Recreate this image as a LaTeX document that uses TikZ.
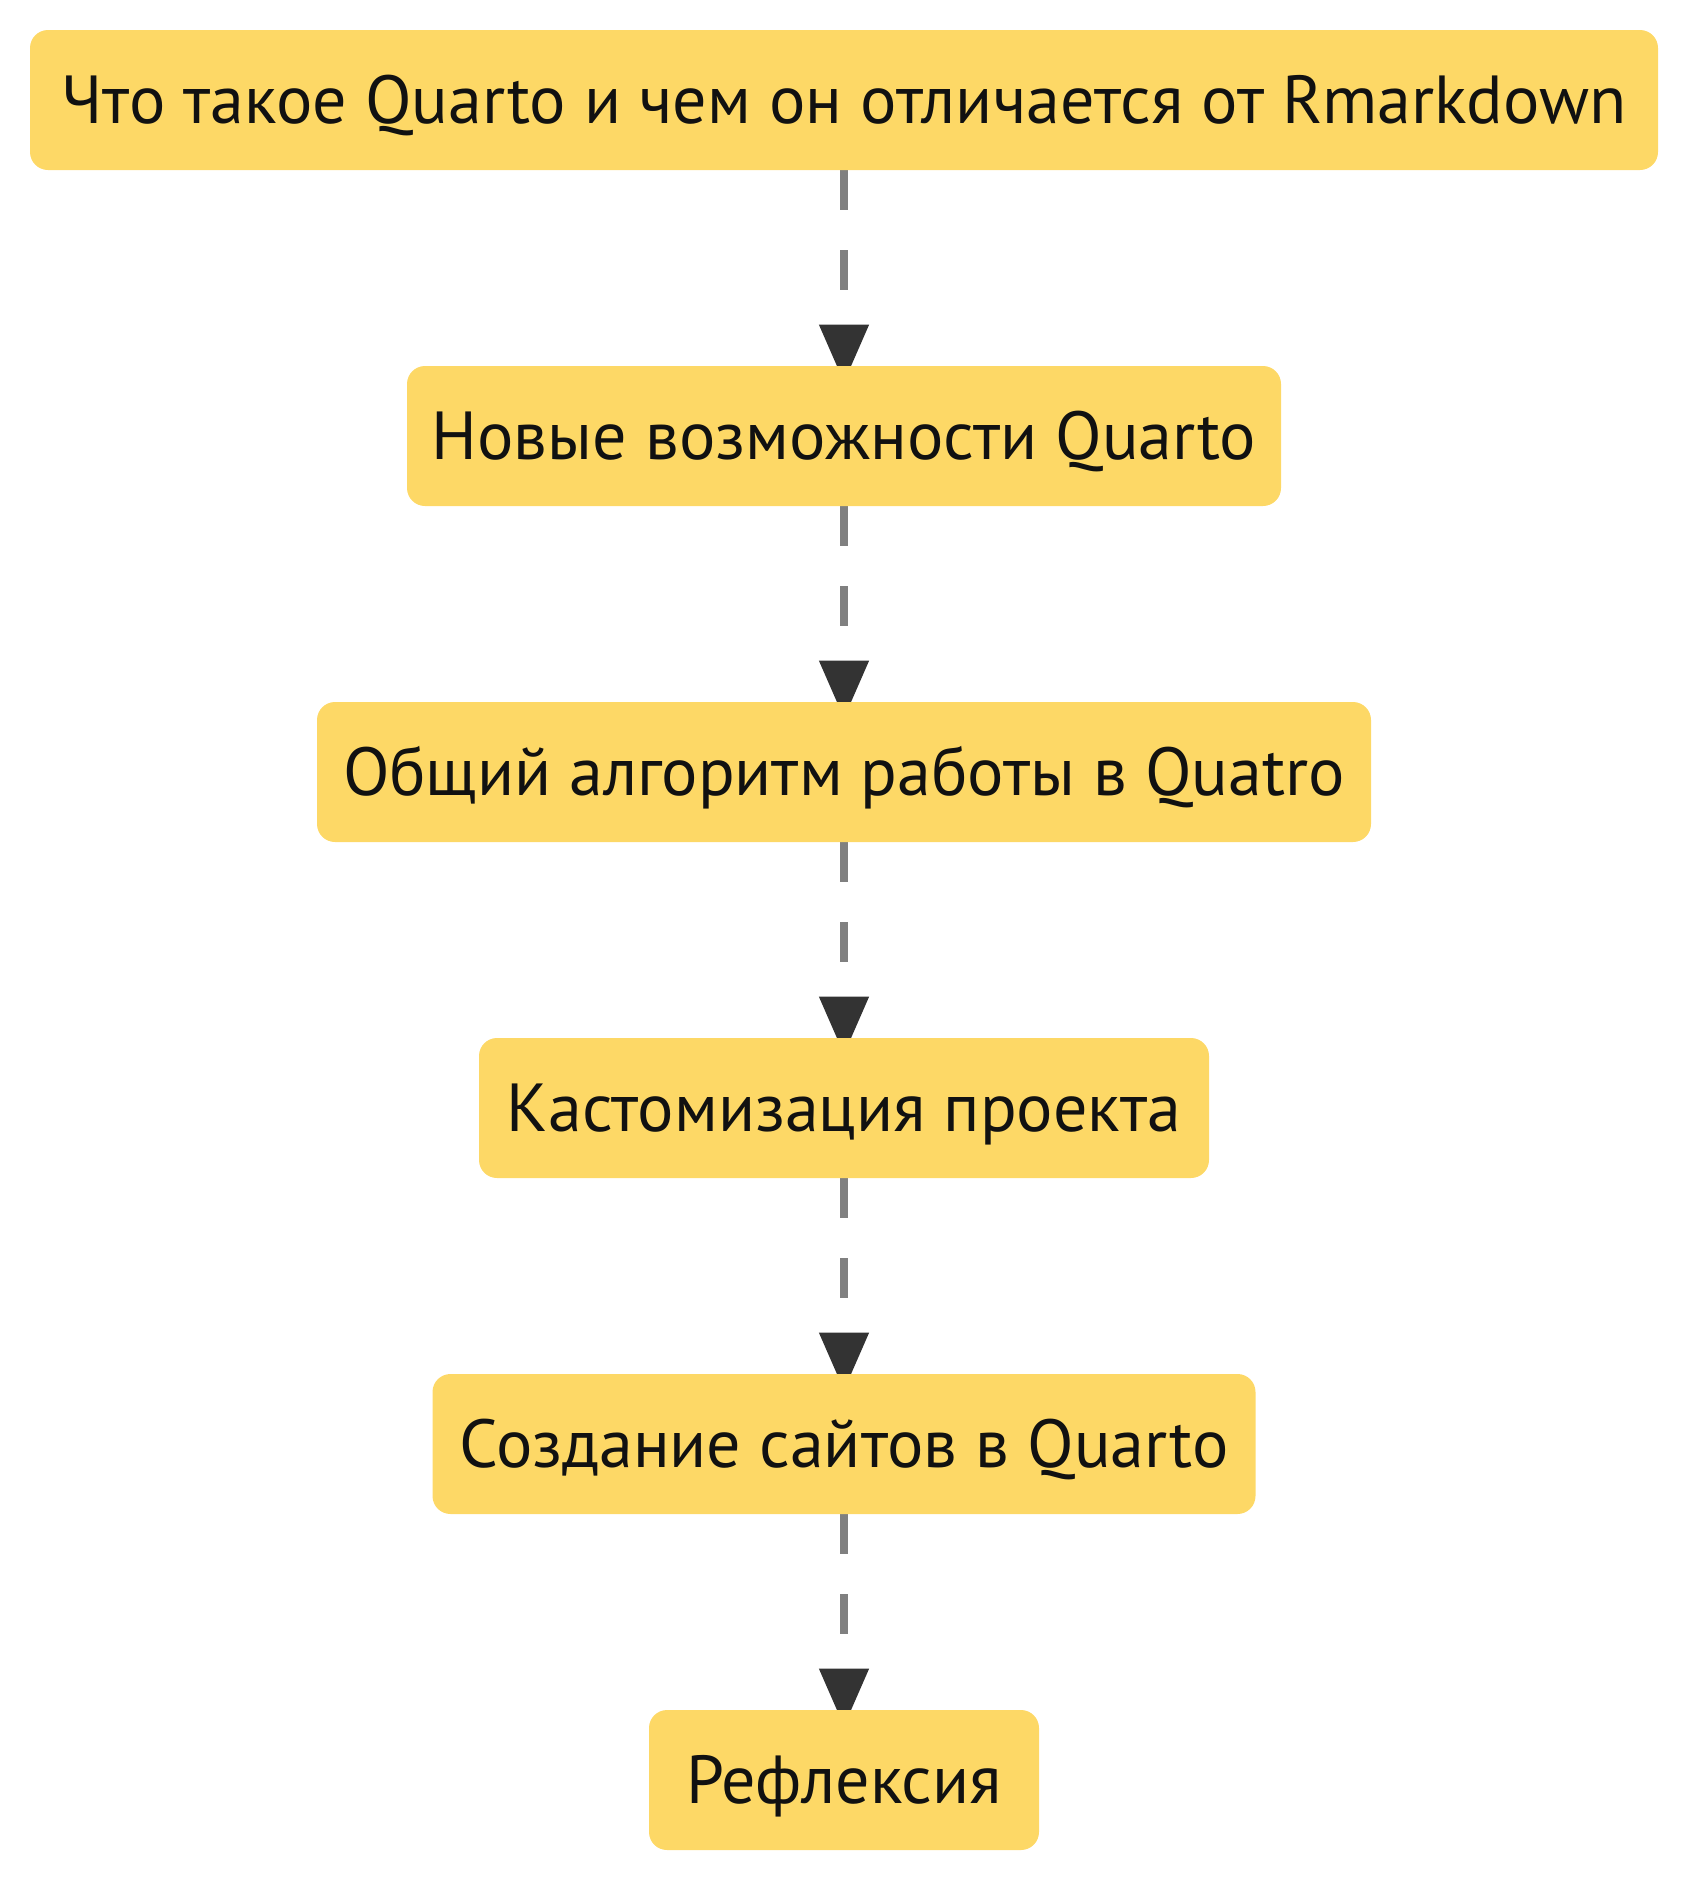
\documentclass[tikz,border=0pt]{standalone}
\usepackage{fontspec}
\setmainfont{PT Sans}
\usetikzlibrary{arrows.meta,calc}
\pgfdeclarelayer{background}
\pgfsetlayers{background,main}
\definecolor{boxfill}{RGB}{253,216,102}
\definecolor{textdark}{RGB}{17,17,17}
\definecolor{edgegray}{RGB}{128,128,128}
\definecolor{tipdark}{RGB}{51,51,51}
\tikzset{
  stepbox/.style={draw=none, fill=boxfill, rounded corners=9pt, minimum height=70pt,
    inner xsep=0pt, inner ysep=0pt, text height=23.8pt, text depth=0pt, text=textdark,
    font=\fontsize{34pt}{40pt}\selectfont},
  flow/.style={draw=edgegray, line width=4pt, dash pattern=on 20pt off 20pt,
    -{Triangle[width=24pt,length=29pt,color=tipdark]}}
}
\begin{document}
\begin{tikzpicture}[x=0.5pt,y=-0.5pt]
\useasboundingbox (0,0) rectangle (1688,1880);
\node[stepbox, minimum width=814pt] (n1) at (844,100) {Что такое Quarto и чем он отличается от Rmarkdown};
\node[stepbox, minimum width=437pt] (n2) at (844,436) {Новые возможности Quarto};
\node[stepbox, minimum width=527pt] (n3) at (844,772) {Общий алгоритм работы в Quatro};
\node[stepbox, minimum width=365pt] (n4) at (844,1108) {Кастомизация проекта};
\node[stepbox, minimum width=411.5pt] (n5) at (844,1444) {Создание сайтов в Quarto};
\node[stepbox, minimum width=195pt] (n6) at (844,1780) {Рефлексия};
\begin{pgfonlayer}{background}
\draw[flow] (n1.south) -- ($(n2.north)+(0,17)$);
\draw[flow] (n2.south) -- ($(n3.north)+(0,17)$);
\draw[flow] (n3.south) -- ($(n4.north)+(0,17)$);
\draw[flow] (n4.south) -- ($(n5.north)+(0,17)$);
\draw[flow] (n5.south) -- ($(n6.north)+(0,17)$);
\end{pgfonlayer}
\end{tikzpicture}
\end{document}
